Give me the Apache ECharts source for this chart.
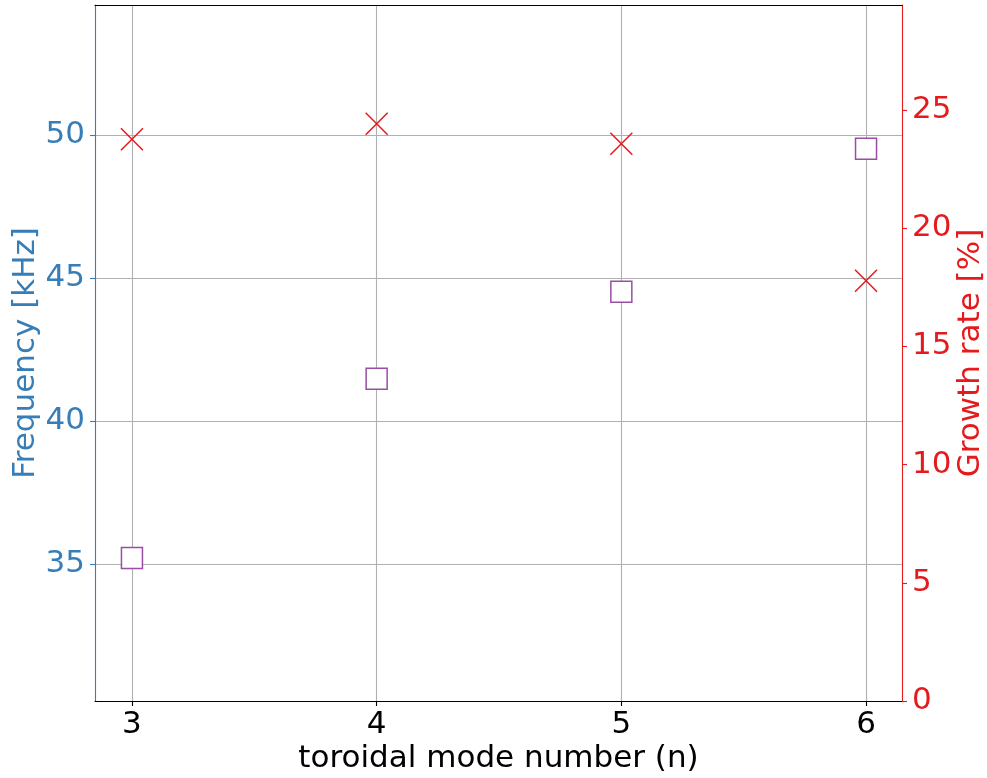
<!DOCTYPE html>
<html>
<head>
<meta charset="utf-8">
<script src="https://cdn.jsdelivr.net/npm/echarts@6/dist/echarts.min.js"></script>
<style>html,body{margin:0;padding:0;background:#fff;overflow:hidden}#c{width:987px;height:778px}</style>
</head>
<body>
<div id="c"></div>
<script>
const modeNumbers = [3, 4, 5, 6];
const frequency = [35.22, 41.49, 44.53, 49.53];
const growthRate = [23.76, 24.42, 23.57, 17.78];
const xTicks = [3, 4, 5, 6];
const freqTicks = [35, 40, 45, 50];
const growthTicks = [0, 5, 10, 15, 20, 25];

const FONT = 'DejaVu Sans';
const FS = 31;
const BLUE = '#377eb8', RED = '#e41a1c', PURPLE = '#984ea3';

const chart = echarts.init(document.getElementById('c'), null, {renderer: 'canvas'});
chart.setOption({
  animation: false,
  backgroundColor: '#fff',
  grid: {left: 95, right: 85, top: 5, bottom: 77, containLabel: false, outerBoundsMode: 'none'},
  xAxis: [{
    type: 'value', min: 2.849, max: 6.147,
    name: 'toroidal mode number (n)', nameLocation: 'middle', nameGap: 42, nameMoveOverlap: false,
    nameTextStyle: {fontFamily: FONT, fontSize: FS, color: '#000'},
    axisLine: {lineStyle: {color: '#000', width: 1.1}},
    axisTick: {customValues: xTicks, length: 5, lineStyle: {color: '#000', width: 1.1}},
    axisLabel: {customValues: xTicks, fontFamily: FONT, fontSize: FS, color: '#000', margin: 8},
    splitLine: {show: true, lineStyle: {color: '#b0b0b0', width: 1.1}}
  }, {
    type: 'value', position: 'top', min: 2.849, max: 6.147,
    axisLine: {show: true, lineStyle: {color: '#000', width: 1.1}},
    axisTick: {show: false}, axisLabel: {show: false}, splitLine: {show: false}
  }],
  yAxis: [{
    type: 'value', min: 30.22, max: 54.556, position: 'left',
    name: 'Frequency [kHz]', nameLocation: 'middle', nameGap: 54, nameMoveOverlap: false,
    nameTextStyle: {fontFamily: FONT, fontSize: FS, color: BLUE},
    axisLine: {show: true, lineStyle: {color: BLUE, width: 1.1}},
    axisTick: {show: true, customValues: freqTicks, length: 5, lineStyle: {color: BLUE, width: 1.1}},
    axisLabel: {customValues: freqTicks, fontFamily: FONT, fontSize: FS, color: BLUE, margin: 10},
    splitLine: {show: true, lineStyle: {color: '#b0b0b0', width: 1.1}}
  }, {
    type: 'value', min: 0, max: 29.44, position: 'right',
    name: 'Growth rate [%]', nameLocation: 'middle', nameGap: 53, nameMoveOverlap: false,
    nameTextStyle: {fontFamily: FONT, fontSize: FS, color: RED},
    axisLine: {show: true, lineStyle: {color: RED, width: 1.1}},
    axisTick: {show: true, customValues: growthTicks, length: 5, lineStyle: {color: RED, width: 1.1}},
    axisLabel: {customValues: growthTicks, fontFamily: FONT, fontSize: FS, color: RED, margin: 10},
    splitLine: {show: false}
  }],
  series: [{
    type: 'scatter', xAxisIndex: 0, yAxisIndex: 0,
    data: modeNumbers.map((n, i) => [n, frequency[i]]),
    symbol: 'rect', symbolSize: 21,
    itemStyle: {color: '#fff', borderColor: PURPLE, borderWidth: 1.5, opacity: 1},
    z: 3
  }, {
    type: 'scatter', xAxisIndex: 0, yAxisIndex: 1,
    data: modeNumbers.map((n, i) => [n, growthRate[i]]),
    symbol: 'path://M0,0L10,10M10,0L0,10', symbolSize: 22,
    itemStyle: {color: 'none', borderColor: RED, borderWidth: 1.5, opacity: 1},
    z: 4
  }]
});
</script>
</body>
</html>
